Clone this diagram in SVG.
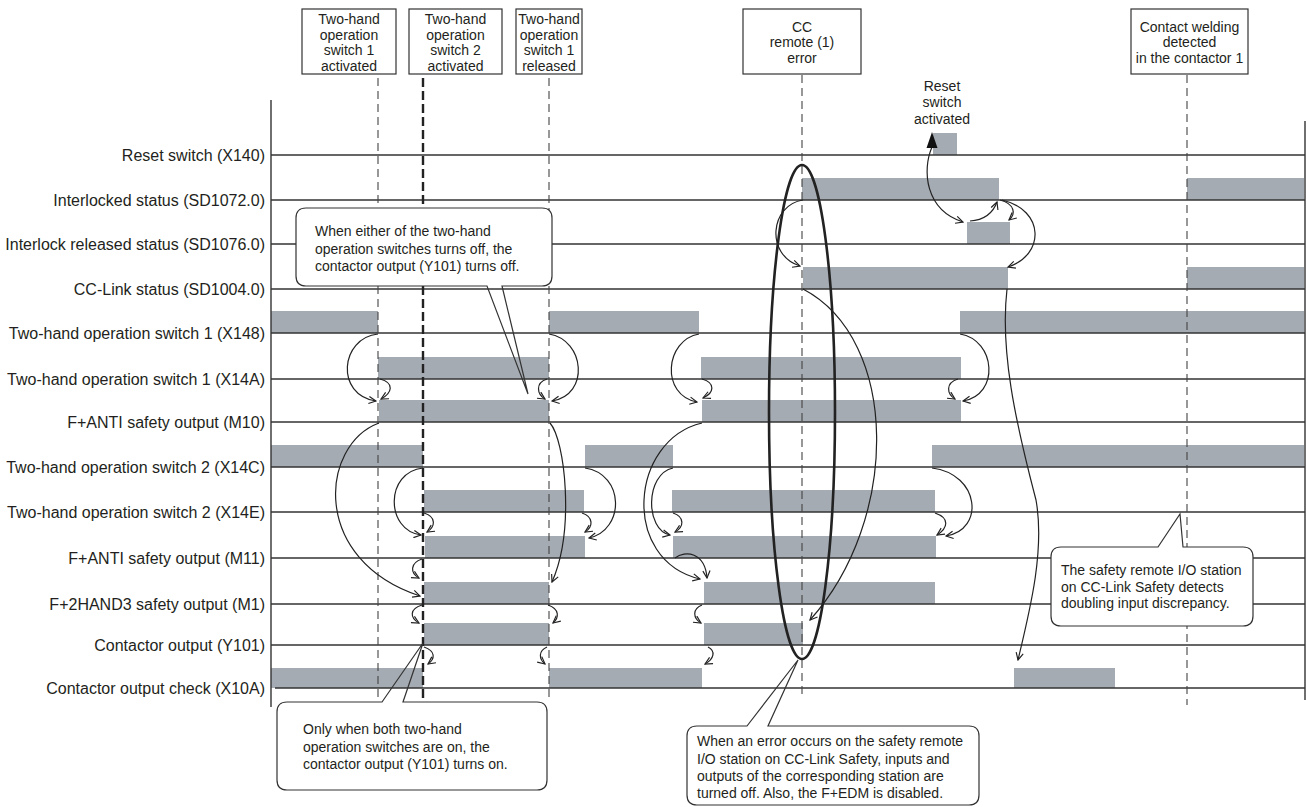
<svg xmlns="http://www.w3.org/2000/svg" width="1307" height="807" viewBox="0 0 1307 807">
<defs>
<style>
text{font-family:"Liberation Sans",Arial,sans-serif;font-size:14px;fill:#231f20}
.lbl{text-anchor:end;font-size:16px}
.mid{text-anchor:middle}
.bar{fill:#a5abb2}
.hl{stroke:#333;stroke-width:1.4;fill:none}
.dash{stroke:#444;stroke-width:1.1;stroke-dasharray:8 5;fill:none}
.dashb{stroke:#222;stroke-width:2.4;stroke-dasharray:9 4;fill:none}
.box{fill:#fff;stroke:#333;stroke-width:1.2}
.cv{fill:none;stroke:#222;stroke-width:1.2;marker-end:url(#ah)}
.cbg{fill:#fff;stroke:none}
.cout{fill:none;stroke:#333;stroke-width:1.2}
</style>
<marker id="ah" viewBox="0 0 10 10" refX="9" refY="5" markerWidth="9" markerHeight="9" markerUnits="userSpaceOnUse" orient="auto">
<path d="M1,1 L9,5 L1,9" fill="none" stroke="#222" stroke-width="1.3"/>
</marker>
</defs>
<rect width="1307" height="807" fill="#fff"/>

<g id="bars">
<rect class="bar" x="933" y="133" width="24" height="22"/>
<rect class="bar" x="802" y="178" width="197" height="22"/>
<rect class="bar" x="1187" y="178" width="117" height="22"/>
<rect class="bar" x="967" y="222" width="43" height="22"/>
<rect class="bar" x="803" y="267" width="205" height="22"/>
<rect class="bar" x="1187" y="267" width="117" height="22"/>
<rect class="bar" x="271" y="311" width="107" height="22"/>
<rect class="bar" x="549" y="311" width="150" height="22"/>
<rect class="bar" x="960" y="311" width="344" height="22"/>
<rect class="bar" x="378" y="357" width="171" height="22"/>
<rect class="bar" x="701" y="357" width="260" height="22"/>
<rect class="bar" x="379" y="400" width="170" height="22"/>
<rect class="bar" x="702" y="400" width="259" height="22"/>
<rect class="bar" x="271" y="445" width="152" height="22"/>
<rect class="bar" x="585" y="445" width="88" height="22"/>
<rect class="bar" x="932" y="445" width="372" height="22"/>
<rect class="bar" x="424" y="490" width="160" height="22"/>
<rect class="bar" x="672" y="490" width="263" height="22"/>
<rect class="bar" x="425" y="536" width="160" height="22"/>
<rect class="bar" x="673" y="536" width="263" height="22"/>
<rect class="bar" x="424" y="582" width="125" height="22"/>
<rect class="bar" x="704" y="582" width="231" height="22"/>
<rect class="bar" x="424" y="623" width="125" height="22"/>
<rect class="bar" x="704" y="623" width="99" height="22"/>
<rect class="bar" x="271" y="668" width="152" height="20"/>
<rect class="bar" x="549" y="668" width="153" height="20"/>
<rect class="bar" x="1014" y="668" width="101" height="20"/>
</g>

<g id="grid">
<line class="hl" x1="271" y1="100" x2="271" y2="707"/>
<line class="hl" x1="1305" y1="121" x2="1305" y2="700"/>
<line class="hl" x1="271" y1="155" x2="1305" y2="155"/>
<line class="hl" x1="271" y1="200" x2="1305" y2="200"/>
<line class="hl" x1="271" y1="244" x2="1305" y2="244"/>
<line class="hl" x1="271" y1="289" x2="1305" y2="289"/>
<line class="hl" x1="271" y1="333" x2="1305" y2="333"/>
<line class="hl" x1="271" y1="379" x2="1305" y2="379"/>
<line class="hl" x1="271" y1="422" x2="1305" y2="422"/>
<line class="hl" x1="271" y1="467" x2="1305" y2="467"/>
<line class="hl" x1="271" y1="512" x2="1305" y2="512"/>
<line class="hl" x1="271" y1="558" x2="1305" y2="558"/>
<line class="hl" x1="271" y1="604" x2="1305" y2="604"/>
<line class="hl" x1="271" y1="645" x2="1305" y2="645"/>
<line class="hl" x1="275" y1="688" x2="1305" y2="688"/>
<line class="dash" x1="378" y1="78" x2="378" y2="700"/>
<line class="dashb" x1="423" y1="78" x2="423" y2="700"/>
<line class="dash" x1="549" y1="78" x2="549" y2="700"/>
<line class="dash" x1="802" y1="75" x2="802" y2="698"/>
<line class="dash" x1="1187" y1="75" x2="1187" y2="705"/>
</g>

<g id="signal-labels">
<text class="lbl" x="265" y="160.5">Reset switch (X140)</text>
<text class="lbl" x="265" y="205.5">Interlocked status (SD1072.0)</text>
<text class="lbl" x="265" y="249.5">Interlock released status (SD1076.0)</text>
<text class="lbl" x="265" y="294.5">CC-Link status (SD1004.0)</text>
<text class="lbl" x="265" y="338.5">Two-hand operation switch 1 (X148)</text>
<text class="lbl" x="265" y="384.5">Two-hand operation switch 1 (X14A)</text>
<text class="lbl" x="265" y="427.5">F+ANTI safety output (M10)</text>
<text class="lbl" x="265" y="472.5">Two-hand operation switch 2 (X14C)</text>
<text class="lbl" x="265" y="517.5">Two-hand operation switch 2 (X14E)</text>
<text class="lbl" x="265" y="563.5">F+ANTI safety output (M11)</text>
<text class="lbl" x="265" y="609.5">F+2HAND3 safety output (M1)</text>
<text class="lbl" x="265" y="650.5">Contactor output (Y101)</text>
<text class="lbl" x="265" y="693.5">Contactor output check (X10A)</text>
</g>

<g id="event-sw1-activated">
<rect class="box" x="302" y="9" width="94" height="65"/>
<text class="mid" x="349" y="23.5">Two-hand</text>
<text class="mid" x="349" y="39.5">operation</text>
<text class="mid" x="349" y="55">switch 1</text>
<text class="mid" x="349" y="71">activated</text>
</g>
<g id="event-sw2-activated">
<rect class="box" x="409" y="9" width="93" height="65"/>
<text class="mid" x="455.5" y="23.5">Two-hand</text>
<text class="mid" x="455.5" y="39.5">operation</text>
<text class="mid" x="455.5" y="55">switch 2</text>
<text class="mid" x="455.5" y="71">activated</text>
</g>
<g id="event-sw1-released">
<rect class="box" x="516" y="9" width="66" height="65"/>
<text class="mid" x="549" y="23.5">Two-hand</text>
<text class="mid" x="549" y="39.5">operation</text>
<text class="mid" x="549" y="55">switch 1</text>
<text class="mid" x="549" y="71">released</text>
</g>
<g id="event-cc-error">
<rect class="box" x="743" y="9" width="118" height="65"/>
<text class="mid" x="802" y="31.5">CC</text>
<text class="mid" x="802" y="47">remote (1)</text>
<text class="mid" x="802" y="62.5">error</text>
</g>
<g id="event-welding">
<rect class="box" x="1131" y="9" width="117" height="65"/>
<text class="mid" x="1189.5" y="31.5">Contact welding</text>
<text class="mid" x="1189.5" y="47">detected</text>
<text class="mid" x="1189.5" y="63">in the contactor 1</text>
</g>
<g id="event-reset">
<text class="mid" x="942" y="91">Reset</text>
<text class="mid" x="942" y="107">switch</text>
<text class="mid" x="942" y="124">activated</text>
</g>

<g id="connectors">
<path class="cv" d="M378,334 C340,338 335,395 376,401"/>
<path class="cv" d="M380,379 C395,383 392,393 381,399"/>
<path class="cv" d="M549,334 C585,340 590,395 552,401"/>
<path class="cv" d="M547,379 C535,383 537,394 545,399"/>
<path class="cv" d="M699,334 C665,340 660,395 697,402"/>
<path class="cv" d="M702,379 C716,383 714,393 703,398"/>
<path class="cv" d="M960,334 C996,340 1000,395 963,401"/>
<path class="cv" d="M958,379 C945,383 947,394 955,399"/>
<path class="cv" d="M423,468 C385,472 385,530 421,535"/>
<path class="cv" d="M424,513 C437,517 435,527 427,532"/>
<path class="cv" d="M585,468 C625,474 625,530 589,538"/>
<path class="cv" d="M582,513 C594,517 593,527 585,532"/>
<path class="cv" d="M673,468 C645,474 645,530 670,535"/>
<path class="cv" d="M673,513 C685,517 684,527 675,532"/>
<path class="cv" d="M932,468 C980,474 985,530 946,536"/>
<path class="cv" d="M935,513 C950,518 948,528 937,535"/>
<path class="cv" d="M379,423 C320,445 310,560 420,596"/>
<path class="cv" d="M422,559 C410,563 410,573 419,578"/>
<path class="cv" d="M422,605 C409,609 410,618 419,623"/>
<path class="cv" d="M424,647 C436,651 435,659 428,664"/>
<path class="cv" d="M550,423 C565,440 575,530 552,582"/>
<path class="cv" d="M548,605 C560,609 559,618 553,623"/>
<path class="cv" d="M547,647 C538,651 539,659 545,664"/>
<path class="cv" d="M702,423 C630,440 620,560 700,579"/>
<path class="cv" d="M675,558 C685,550 705,552 707,578"/>
<path class="cv" d="M702,605 C692,609 693,618 701,623"/>
<path class="cv" d="M708,647 C716,651 714,659 705,664"/>
<path class="cv" d="M803,289 C900,340 900,520 810,620"/>
<path class="cv" d="M803,200 C770,205 765,255 800,266"/>
<path class="cv" d="M932,147 C922,170 925,210 963,222"/>
<polygon points="932,132 926.5,148 937.5,148" fill="#111"/>
<path class="cv" d="M970,221 C985,220 993,213 997,202"/>
<path class="cv" d="M1000,200 C1015,204 1016,214 1009,220"/>
<path class="cv" d="M1002,200 C1045,210 1045,255 1008,267"/>
<path class="cv" d="M1007,289 C1000,350 1015,420 1036,500 C1045,550 1030,610 1018,660"/>
<ellipse cx="802" cy="412" rx="33" ry="247" fill="none" stroke="#222" stroke-width="2.6"/>
</g>

<g id="note-turn-off">
<rect class="cbg" x="296" y="208" width="256" height="78" rx="10"/>
<path class="cout" d="M502,286 L528,394 L487,286 H306 Q296,286 296,276 V218 Q296,208 306,208 H542 Q552,208 552,218 V276 Q552,286 542,286 Z"/>
<text x="315" y="236">When either of the two-hand</text>
<text x="315" y="253.5">operation switches turns off, the</text>
<text x="315" y="271">contactor output (Y101) turns off.</text>
</g>
<g id="note-turn-on">
<rect class="cbg" x="277" y="702" width="270" height="88" rx="10"/>
<path class="cout" d="M382,702 L423,643 L403,702 H537 Q547,702 547,712 V780 Q547,790 537,790 H287 Q277,790 277,780 V712 Q277,702 287,702 Z"/>
<text x="303" y="734">Only when both two-hand</text>
<text x="303" y="751.5">operation switches are on, the</text>
<text x="303" y="769">contactor output (Y101) turns on.</text>
</g>
<g id="note-cc-error">
<rect class="cbg" x="687" y="726" width="292" height="79" rx="10"/>
<path class="cout" d="M747,726 L798,660 L768,726 H969 Q979,726 979,736 V795 Q979,805 969,805 H697 Q687,805 687,795 V736 Q687,726 697,726 Z"/>
<text x="697" y="746">When an error occurs on the safety remote</text>
<text x="697" y="763.5">I/O station on CC-Link Safety, inputs and</text>
<text x="697" y="781">outputs of the corresponding station are</text>
<text x="697" y="798">turned off. Also, the F+EDM is disabled.</text>
</g>
<g id="note-discrepancy">
<rect class="cbg" x="1051" y="547" width="202" height="79" rx="10"/>
<path class="cout" d="M1158,547 L1180,514 L1183,547 H1243 Q1253,547 1253,557 V616 Q1253,626 1243,626 H1061 Q1051,626 1051,616 V557 Q1051,547 1061,547 Z"/>
<text x="1061" y="575">The safety remote I/O station</text>
<text x="1061" y="592">on CC-Link Safety detects</text>
<text x="1061" y="608">doubling input discrepancy.</text>
</g>
</svg>
